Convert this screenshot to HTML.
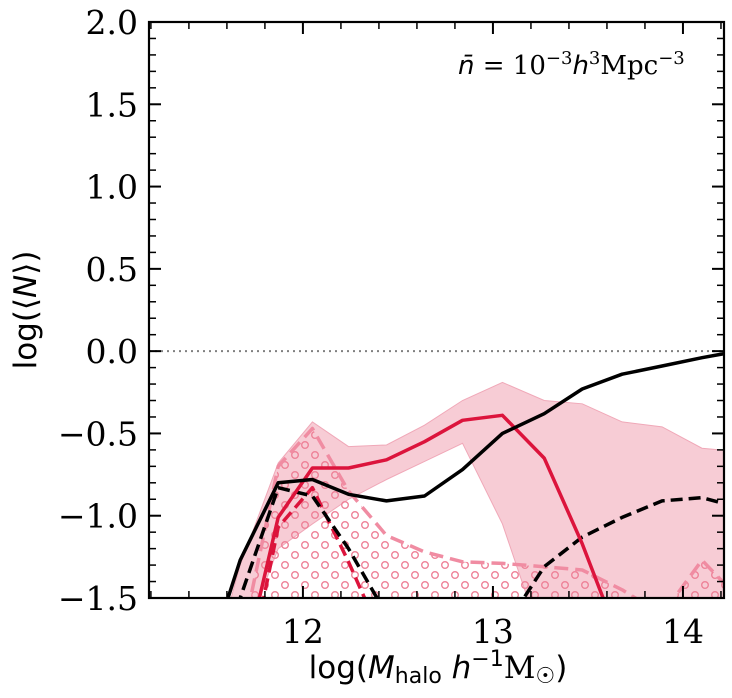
<!DOCTYPE html>
<html><head><meta charset="utf-8"><style>
html,body{margin:0;padding:0;background:#fff;overflow:hidden;}
svg{display:block;}
</style></head><body>
<svg id="chart" width="732" height="698" viewBox="0 0 732 698" xmlns="http://www.w3.org/2000/svg">
<defs>
<clipPath id="plotclip"><rect x="149" y="22" width="575" height="576"/></clipPath>
<pattern id="circles" patternUnits="userSpaceOnUse" width="20" height="20">
<circle cx="5" cy="5" r="3.3" fill="none" stroke="#ee8298" stroke-width="1.4"/>
<circle cx="15" cy="15" r="3.3" fill="none" stroke="#ee8298" stroke-width="1.4"/>
</pattern>
</defs>
<g id="plot" clip-path="url(#plotclip)"></g>
<g id="axes"></g>
<text x="458" y="74" font-family="DejaVu Serif, serif" font-size="26"><tspan font-style="italic" font-family="DejaVu Sans, sans-serif">n̄</tspan> = 10<tspan dy="-10" font-size="18">−3</tspan><tspan dy="10" font-style="italic" font-family="DejaVu Sans, sans-serif">h</tspan><tspan dy="-10" font-size="18">3</tspan><tspan dy="10">Mpc</tspan><tspan dy="-10" font-size="18">−3</tspan></text>
<text x="438" y="678" text-anchor="middle" font-family="DejaVu Sans, sans-serif" font-size="31">log(<tspan font-style="italic">M</tspan><tspan dy="5" font-size="22">halo</tspan><tspan dy="-5"> </tspan><tspan font-style="italic">h</tspan><tspan dy="-12" font-size="22">−1</tspan><tspan dy="12" font-family="DejaVu Serif, serif">M</tspan><tspan dy="5" font-size="22">☉</tspan><tspan dy="-5">)</tspan></text>
<text transform="translate(36,310) rotate(-90)" text-anchor="middle" font-family="DejaVu Sans, sans-serif" font-size="31">log(⟨<tspan font-style="italic">N</tspan>⟩)</text>
</svg>
<script>
const mass = [11.55, 11.67, 11.87, 12.05, 12.24, 12.44, 12.64, 12.84, 13.05, 13.27, 13.47, 13.68, 13.89, 14.10, 14.29];
const allSolid = [-1.7, -1.27, -0.80, -0.78, -0.87, -0.91, -0.88, -0.72, -0.50, -0.38, -0.23, -0.14, -0.09, -0.04, 0.0];
const allDashed = [-2.2, -1.5, -0.83, -0.88, -1.2, -1.6, -2.2, -2.5, -1.7, -1.31, -1.13, -1.01, -0.91, -0.89, -0.95];
const redSolid = [-2.5, -2.0, -1.01, -0.71, -0.71, -0.66, -0.55, -0.42, -0.39, -0.65, -1.17, -1.8, -2.5, -2.5, -2.5];
const redDashed = [-2.5, -2.2, -1.07, -0.83, -1.28, -1.8, -2.5, -2.5, -2.5, -2.5, -2.5, -2.5, -2.5, -2.5, -2.5];
const pinkDashed = [-2.2, -1.8, -0.70, -0.47, -0.85, -1.12, -1.22, -1.28, -1.29, -1.31, -1.33, -1.45, -1.6, -1.27, -1.5];
const bandUpper = [-1.8, -1.3, -0.68, -0.43, -0.58, -0.57, -0.45, -0.30, -0.19, -0.30, -0.32, -0.43, -0.46, -0.59, -0.61];
const bandLower = [-2.0, -1.8, -1.2, -1.05, -0.9, -0.78, -0.67, -0.56, -1.05, -1.8, -2.0, -2.0, -2.0, -2.0, -2.0];
const xTicks = [12, 13, 14];
const xTickLabels = ["12", "13", "14"];
const yTicks = [-1.5, -1.0, -0.5, 0.0, 0.5, 1.0, 1.5, 2.0];
const yTickLabels = ["−1.5", "−1.0", "−0.5", "0.0", "0.5", "1.0", "1.5", "2.0"];

const X0 = 149, X1 = 724, Y0 = 22, Y1 = 598;
const xMin = 11.19, xMax = 14.216, yMin = -1.5, yMax = 2.0;
const sx = v => X0 + (v - xMin) / (xMax - xMin) * (X1 - X0);
const sy = v => Y1 - (v - yMin) / (yMax - yMin) * (Y1 - Y0);
const NS = "http://www.w3.org/2000/svg";
const plot = document.getElementById('plot');
const axes = document.getElementById('axes');
function mk(tag, attrs, parent) {
  const e = document.createElementNS(NS, tag);
  for (const k in attrs) e.setAttribute(k, attrs[k]);
  parent.appendChild(e);
  return e;
}
const pts = arr => arr.map((v, i) => sx(mass[i]).toFixed(1) + ',' + sy(v).toFixed(1)).join(' ');

const bandPts = mass.map((m, i) => sx(m) + ',' + sy(bandUpper[i])).concat(mass.slice().reverse().map((m, j) => { const i = mass.length - 1 - j; return sx(m) + ',' + sy(bandLower[i]); })).join(' ');
const band = mk('polygon', {points: bandPts, fill: '#f7ccd5', stroke: '#f0a8b8', 'stroke-width': 1}, plot);



const hatchPts = pts(pinkDashed) + ' ' + sx(mass[mass.length - 1]) + ',' + sy(-2.5) + ' ' + sx(mass[0]) + ',' + sy(-2.5);
const hatch = mk('polygon', {points: hatchPts, fill: 'url(#circles)', stroke: 'none'}, plot);



const zl = mk('line', {x1: X0, x2: X1, y1: sy(0), y2: sy(0), stroke: '#808080', 'stroke-width': 2, 'stroke-dasharray': '2,4'}, plot);



function line(arr, color, dash, name, width) {
  const p = mk('polyline', {points: pts(arr), fill: 'none', stroke: color, 'stroke-width': width || 3.5, 'stroke-linejoin': 'round'}, plot);
  if (dash) p.setAttribute('stroke-dasharray', dash);
  
  
}
line(pinkDashed, '#f08ca2', '14,7', 'pink-dashed-satellites');
line(redDashed, '#dc143c', '12,6', 'red-dashed-satellites');
line(allDashed, '#000', '12,6', 'black-dashed-satellites');
line(redSolid, '#dc143c', null, 'red-solid-total');
line(allSolid, '#000', null, 'black-solid-total');

const fr = mk('rect', {x: X0, y: Y0, width: X1 - X0, height: Y1 - Y0, fill: 'none', stroke: '#000', 'stroke-width': 2.2}, axes);



for (let v = 11.2; v <= 14.21; v += 0.2) {
  const vv = Math.round(v * 10) / 10;
  const major = Math.abs(vv - Math.round(vv)) < 1e-6;
  const L = major ? 12 : 7;
  const x = sx(vv);
  const t1 = mk('line', {x1: x, x2: x, y1: Y1, y2: Y1 - L, stroke: '#000', 'stroke-width': major ? 2 : 1.5}, axes);
  
  
  const t2 = mk('line', {x1: x, x2: x, y1: Y0, y2: Y0 + L, stroke: '#000', 'stroke-width': major ? 2 : 1.5}, axes);
  
  
}
xTicks.forEach((v, i) => {
  const t = mk('text', {x: sx(v), y: 643, 'text-anchor': 'middle', 'font-family': 'DejaVu Serif, serif', 'font-size': 33}, axes);
  t.textContent = xTickLabels[i];
  
  
});
for (let k = -15; k <= 20; k++) {
  const v = k / 10;
  const major = k % 5 === 0;
  const L = major ? 12 : 7;
  const y = sy(v);
  const t1 = mk('line', {x1: X0, x2: X0 + L, y1: y, y2: y, stroke: '#000', 'stroke-width': major ? 2 : 1.5}, axes);
  
  
  const t2 = mk('line', {x1: X1, x2: X1 - L, y1: y, y2: y, stroke: '#000', 'stroke-width': major ? 2 : 1.5}, axes);
  
  
}
yTicks.forEach((v, i) => {
  const t = mk('text', {x: 138, y: sy(v) + 12, 'text-anchor': 'end', 'font-family': 'DejaVu Serif, serif', 'font-size': 33}, axes);
  t.textContent = yTickLabels[i];
  
  
});
</script>
</body></html>
